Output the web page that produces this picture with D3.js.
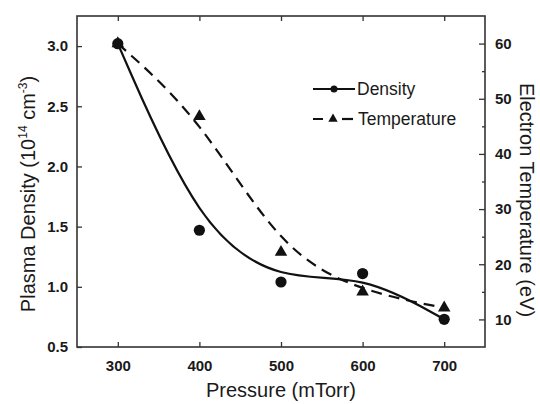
<!DOCTYPE html>
<html>
<head>
<meta charset="utf-8">
<script src="https://cdn.jsdelivr.net/npm/d3@7"></script>
<style>
  body { margin: 0; background: #fff; }
  text { font-family: "Liberation Sans", Arial, sans-serif; fill: #1a1a1a; }
</style>
</head>
<body>
<div class="chart"></div>
<script>
// data
const pressure = [300, 400, 500, 600, 700];
const density = [3.02, 1.47, 1.04, 1.11, 0.73];      // 10^14 cm^-3
const temperature = [60, 46.8, 22.2, 15.0, 12.1];    // eV
const xTicks = [300, 400, 500, 600, 700];
const yLeftTicks = [0.5, 1.0, 1.5, 2.0, 2.5, 3.0];
const yRightTicks = [10, 20, 30, 40, 50, 60];
const yRightMinor = [15, 25, 35, 45, 55];

const W = 540, H = 404;
const margin = {top: 16, right: 55, bottom: 57, left: 77};
const w = W - margin.left - margin.right;
const h = H - margin.top - margin.bottom;

const svg = d3.select(".chart").append("svg")
    .attr("width", W).attr("height", H);
const g = svg.append("g")
    .attr("transform", `translate(${margin.left},${margin.top})`);

const x = d3.scaleLinear().domain([250, 750]).range([0, w]);
const yL = d3.scaleLinear().domain([0.5, 3.25]).range([h, 0]);
const yR = d3.scaleLinear().domain([5, 65]).range([h, 0]);

const axisColor = "#333";

// frame
g.append("rect")
    .attr("width", w).attr("height", h)
    .attr("fill", "none").attr("stroke", axisColor).attr("stroke-width", 1.6);

// axes, ticks pointing inward
function styleAxis(sel) {
    sel.select(".domain").remove();
    sel.selectAll(".tick line").attr("stroke", axisColor).attr("stroke-width", 1.3);
    sel.selectAll(".tick text")
        .style("font-family", "'Liberation Sans', Arial, sans-serif")
        .style("font-weight", "bold").style("font-size", "15px")
        .attr("fill", "#1a1a1a");
}

g.append("g").attr("transform", `translate(0,${h})`)
    .call(d3.axisBottom(x).tickValues(xTicks).tickSizeInner(-5).tickPadding(13))
    .call(styleAxis);

g.append("g")
    .call(d3.axisTop(x).tickValues(xTicks).tickSizeInner(-5).tickFormat(""))
    .call(styleAxis);

g.append("g")
    .call(d3.axisLeft(yL).tickValues(yLeftTicks).tickSizeInner(-5).tickPadding(9)
        .tickFormat(d3.format(".1f")))
    .call(styleAxis);

g.append("g").attr("transform", `translate(${w},0)`)
    .call(d3.axisRight(yR).tickValues(yRightTicks).tickSizeInner(-6).tickPadding(10))
    .call(styleAxis);

g.append("g").attr("transform", `translate(${w},0)`)
    .call(d3.axisRight(yR).tickValues(yRightMinor).tickSizeInner(-3).tickFormat(""))
    .call(styleAxis);

// fitted curves
const dens = pressure.map((p, i) => ({p, v: density[i]}));
const temp = pressure.map((p, i) => ({p, v: temperature[i]}));

g.append("path").datum(dens)
    .attr("fill", "none").attr("stroke", "#111").attr("stroke-width", 2.2)
    .attr("d", d3.line().x(d => x(d.p)).y(d => yL(d.v)).curve(d3.curveBasis));

g.append("path").datum(temp)
    .attr("fill", "none").attr("stroke", "#111").attr("stroke-width", 2.2)
    .attr("stroke-dasharray", "11,7")
    .attr("d", d3.line().x(d => x(d.p)).y(d => yR(d.v)).curve(d3.curveBasis));

// markers
const tri = d3.symbol().type(d3.symbolTriangle);

g.selectAll(".tri").data(temp).enter().append("path")
    .attr("class", "tri")
    .attr("transform", d => `translate(${x(d.p)},${yR(d.v)})`)
    .attr("d", tri.size(68)).attr("fill", "#111");

g.selectAll(".dot").data(dens).enter().append("circle")
    .attr("class", "dot")
    .attr("cx", d => x(d.p)).attr("cy", d => yL(d.v))
    .attr("r", 5.6).attr("fill", "#111");

// legend
const legend = svg.append("g").attr("transform", "translate(313,89)");
legend.append("line").attr("x1", 0).attr("x2", 42).attr("y1", 0).attr("y2", 0)
    .attr("stroke", "#111").attr("stroke-width", 2.2);
legend.append("circle").attr("cx", 21).attr("cy", 0).attr("r", 3.5).attr("fill", "#111");
legend.append("text").attr("x", 44).attr("y", 6).style("font-size", "17.5px").text("Density");

const leg2 = svg.append("g").attr("transform", "translate(313,119)");
leg2.append("line").attr("x1", 0).attr("x2", 40).attr("y1", 0).attr("y2", 0)
    .attr("stroke", "#111").attr("stroke-width", 2.2).attr("stroke-dasharray", "10,20");
leg2.append("line").attr("x1", 29).attr("x2", 40).attr("y1", 0).attr("y2", 0)
    .attr("stroke", "#111").attr("stroke-width", 2.2);
leg2.append("path").attr("transform", "translate(20,0)")
    .attr("d", tri.size(38)).attr("fill", "#111");
leg2.append("text").attr("x", 45).attr("y", 6).style("font-size", "17.5px").text("Temperature");

// axis titles
svg.append("text")
    .attr("x", margin.left + x(500)).attr("y", 397)
    .attr("text-anchor", "middle").style("font-size", "20px")
    .text("Pressure (mTorr)");

const lt = svg.append("text")
    .attr("transform", "translate(35,194) rotate(-90)")
    .attr("text-anchor", "middle").style("font-size", "20px");
lt.append("tspan").text("Plasma Density (10");
lt.append("tspan").attr("dy", -8).style("font-size", "12px").text("14");
lt.append("tspan").attr("dy", 8).text(" cm");
lt.append("tspan").attr("dy", -8).style("font-size", "12px").text("-3");
lt.append("tspan").attr("dy", 8).text(")");

svg.append("text")
    .attr("transform", "translate(520,200) rotate(90)")
    .attr("text-anchor", "middle").style("font-size", "20px")
    .text("Electron Temperature (eV)");
</script>
</body>
</html>
